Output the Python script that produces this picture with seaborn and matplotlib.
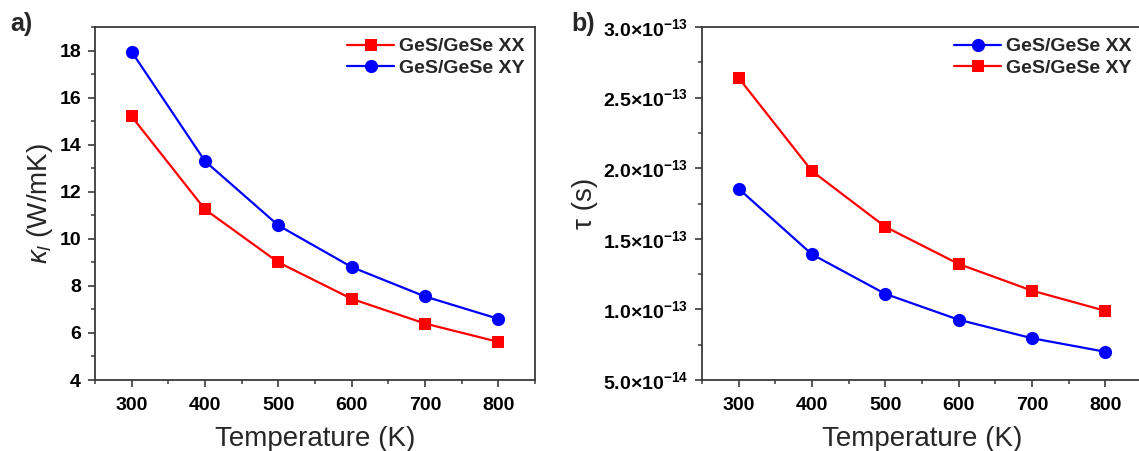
import matplotlib
matplotlib.use("Agg")
import matplotlib.pyplot as plt
import seaborn as sns
from matplotlib.ticker import MultipleLocator, FuncFormatter

temps = [300, 400, 500, 600, 700, 800]

# panel a: lattice thermal conductivity (W/mK)
kappa_xx = [15.2, 11.25, 9.0, 7.45, 6.4, 5.62]
kappa_xy = [17.95, 13.3, 10.57, 8.8, 7.55, 6.6]

# panel b: relaxation time (s)
tau_xx = [1.855e-13, 1.39e-13, 1.11e-13, 0.927e-13, 0.796e-13, 0.70e-13]
tau_xy = [2.64e-13, 1.98e-13, 1.585e-13, 1.322e-13, 1.133e-13, 0.99e-13]

labels = ["GeS/GeSe XX", "GeS/GeSe XY"]
kappa_ticks = [4, 6, 8, 10, 12, 14, 16, 18]
tau_ticks = [0.5e-13, 1.0e-13, 1.5e-13, 2.0e-13, 2.5e-13, 3.0e-13]

RED = "#ff0000"
BLUE = "#0000ff"

sns.set_style("ticks")
plt.rcParams["font.family"] = ["Liberation Sans", "DejaVu Sans"]
plt.rcParams["mathtext.fontset"] = "custom"
plt.rcParams["mathtext.rm"] = "Liberation Sans"
plt.rcParams["mathtext.it"] = "Liberation Sans:italic"
plt.rcParams["mathtext.bf"] = "Liberation Sans:bold"

fig = plt.figure(figsize=(11.39, 4.51), dpi=100)
ax1 = fig.add_axes([0.0834, 0.1574, 0.3863, 0.7827])
ax2 = fig.add_axes([0.6163, 0.1574, 0.3863, 0.7827])


def draw(ax, y, color, marker, label):
    ms = 8.3 if marker == "s" else 9.5
    sns.lineplot(x=temps, y=y, color=color, marker=marker, markersize=ms,
                 markeredgewidth=0, linewidth=1.6, label=label, ax=ax)


def style_axis(ax):
    for s in ax.spines.values():
        s.set_color("#3a3a3a")
        s.set_linewidth(1.3)
    ax.tick_params(which="both", direction="out", colors="#3a3a3a",
                   top=False, right=False)
    ax.tick_params(which="major", length=5, width=1.2, labelsize=14,
                   labelcolor="black", pad=5)
    ax.tick_params(axis="x", which="major", pad=7)
    ax.tick_params(which="minor", length=3, width=1.1)
    for lab in ax.get_xticklabels() + ax.get_yticklabels():
        lab.set_fontweight("bold")
    ax.set_xlim(250, 850)
    ax.set_xticks(temps)
    ax.xaxis.set_minor_locator(MultipleLocator(50))
    ax.set_xlabel("Temperature (K)", fontsize=20, labelpad=9)
    leg = ax.legend(loc="upper right", frameon=False, fontsize=14,
                    handlelength=2.4, borderaxespad=0.25, borderpad=0.3,
                    labelspacing=0.2, handletextpad=0.25)
    for t in leg.get_texts():
        t.set_fontweight("bold")


# panel a
draw(ax1, kappa_xx, RED, "s", labels[0])
draw(ax1, kappa_xy, BLUE, "o", labels[1])
ax1.set_ylim(4, 19)
ax1.set_yticks(kappa_ticks)
ax1.yaxis.set_minor_locator(MultipleLocator(1))
ax1.set_ylabel(r"$\kappa_{l}$ (W/mK)", fontsize=20, labelpad=3)
style_axis(ax1)

# panel b
draw(ax2, tau_xx, BLUE, "o", labels[0])
draw(ax2, tau_xy, RED, "s", labels[1])
ax2.set_ylim(0.5e-13, 3.0e-13)
ax2.set_yticks(tau_ticks)
ax2.yaxis.set_minor_locator(MultipleLocator(0.25e-13))


def sci_fmt(v, pos):
    exp = int(f"{v:e}".split("e")[1])
    mant = v / 10 ** exp
    return r"$\mathbf{%.1f{\times}10^{%d}}$" % (mant, exp)


ax2.yaxis.set_major_formatter(FuncFormatter(sci_fmt))
ax2.set_ylabel("τ (s)", fontsize=20, labelpad=3)
style_axis(ax2)

fig.text(0.0088, 0.947, "a)", fontsize=18, fontweight="bold", va="center")
fig.text(0.502, 0.947, "b)", fontsize=18, fontweight="bold", va="center")

fig.savefig("out.png", dpi=100)
